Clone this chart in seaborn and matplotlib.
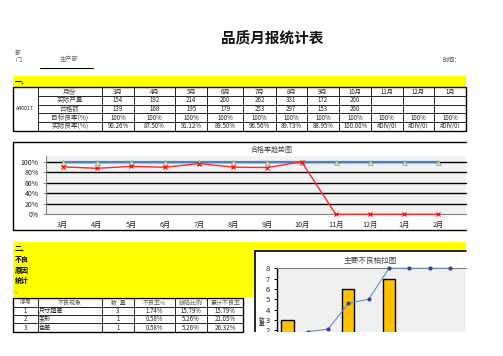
import matplotlib
matplotlib.use('Agg')
import matplotlib.pyplot as plt
import seaborn as sns
import pandas as pd
import numpy as np
from matplotlib.patches import Rectangle

sns.set_theme(style='white')
plt.rcParams['font.family'] = ['Noto Sans CJK SC', 'DejaVu Sans']
plt.rcParams['axes.unicode_minus'] = False

# ---------------- data ----------------
table_months = ['3月', '4月', '5月', '6月', '7月', '8月', '9月', '10月', '11月', '12月', '1月']
row_labels = ['月份', '实际产量', '合格数', '目标良率(%)', '实际良率(%)']
output_qty = ['154', '192', '214', '200', '262', '331', '172', '200', '', '', '']
pass_qty = ['139', '168', '195', '179', '253', '297', '153', '200', '', '', '']
target_rate_txt = ['100%', '100%', '100%', '100%', '100%', '100%', '100%', '100%', '100%', '100%', '100%']
actual_rate_txt = ['90.26%', '87.50%', '91.12%', '89.50%', '96.56%', '89.73%', '88.95%',
                   '100.00%', '#DIV/0!', '#DIV/0!', '#DIV/0!']

trend_months = ['3月', '4月', '5月', '6月', '7月', '8月', '9月', '10月', '11月', '12月', '1月', '2月']
target_pct = [1.0, 1.0, 1.0, 1.0, 1.0, 1.0, 1.0, 1.0, 1.0, 1.0, 1.0, 1.0]
actual_pct = [0.9026, 0.8750, 0.9112, 0.8950, 0.9656, 0.8973, 0.8895, 1.0, 0.0, 0.0, 0.0, 0.0]
pct_ticks = ['0%', '20%', '40%', '60%', '80%', '100%']

defect_header = ['序号', '不良现象', '数  量', '不良率%', '缺陷比例', '累计不良率']
defect_no = ['1', '2', '3']
defect_type = ['尺寸超差', '变形', '色差']
defect_qty = ['3', '1', '1']
defect_rate = ['1.74%', '0.58%', '0.58%']
defect_share = ['15.79%', '5.26%', '5.26%']
defect_cum = ['15.79%', '21.05%', '26.32%']

pareto_count = [3, 0, 0, 6, 0, 7, 0, 0, 0]
pareto_cum = [1.0, 1.85, 2.1, 4.6, 5.0, 8, 8, 8, 8]

# ---------------- figure ----------------
W, H = 503, 356
fig = plt.figure(figsize=(5.03, 3.56), dpi=100)
fig.patch.set_facecolor('white')
bg = fig.add_axes([0, 0, 1, 1])
bg.set_xlim(0, W)
bg.set_ylim(H, 0)
bg.axis('off')


def ax_at(x0, y0, x1, y1):
    return fig.add_axes([x0 / W, 1 - y1 / H, (x1 - x0) / W, (y1 - y0) / H])


TXT = '#222222'
YEL = '#FFFF00'

# header
bg.text(272, 39, '品质月报统计表', fontsize=10.5, fontweight='bold', ha='center', va='center', color='#111111')
bg.text(15, 57, '部\n门:', fontsize=4.2, ha='left', va='center', color='#555555', linespacing=1.3)
bg.text(69, 59.7, '生产部', fontsize=4.5, ha='center', va='center', color='#666666')
bg.plot([40, 93], [68.3, 68.3], color='black', lw=0.8)
bg.text(443, 60.3, '时间:', fontsize=4.5, ha='left', va='center', color='#555555')

# section 1 yellow band
bg.add_patch(Rectangle((13.3, 76), 452.7, 10.5, facecolor=YEL, edgecolor='none'))
bg.text(15, 81.3, '一、', fontsize=5, fontweight='bold', ha='left', va='center', color='black')

# table 1
cols = [13.3, 37.7, 101.7, 134.3, 175, 207.3, 243.3, 275.7, 306.7, 339.3, 371, 402.7, 434.3, 465.7]
t_top, t_bot = 87.2, 130.5
nrows = 5
rh = (t_bot - t_top) / nrows
rows_y = [t_top + i * rh for i in range(nrows + 1)]
for y in rows_y[1:-1]:
    bg.plot([cols[1], cols[-1]], [y, y], color='black', lw=0.6)
for x in cols[1:-1]:
    bg.plot([x, x], [t_top, t_bot], color='black', lw=0.6)
bg.add_patch(Rectangle((cols[0], t_top), cols[-1] - cols[0], t_bot - t_top, facecolor='none',
                       edgecolor='black', lw=1.0))
bg.text((cols[0] + cols[1]) / 2, (t_top + t_bot) / 2, 'A4001T', fontsize=3.8, ha='center', va='center', color=TXT)
table_rows = [table_months, output_qty, pass_qty, target_rate_txt, actual_rate_txt]
for r in range(nrows):
    cy = rows_y[r] + rh / 2
    bg.text((cols[1] + cols[2]) / 2, cy, row_labels[r], fontsize=4.8, ha='center', va='center', color='#444444')
    for c, val in enumerate(table_rows[r]):
        cx = (cols[c + 2] + cols[c + 3]) / 2
        bg.text(cx, cy, val, fontsize=4.4, ha='center', va='center', color=TXT)

# trend chart frame
bg.plot([13.3, 466], [142.3, 142.3], color='black', lw=1.0)
bg.plot([13.3, 13.3], [142.3, 230], color='black', lw=1.0)
bg.plot([13.3, 466], [230, 230], color='black', lw=1.0)
bg.text(272, 150, '合格率趋势图', fontsize=5, ha='center', va='center', color='#444444')

ax1 = ax_at(45.7, 155.7, 465.7, 214.3)
ax1.set_facecolor('#F2F2F2')
pos = np.arange(len(trend_months))
df = pd.DataFrame({'pos': pos, 'target': target_pct, 'actual': actual_pct})
for yv in [0.2, 0.4, 0.6, 0.8, 1.0]:
    ax1.axhline(yv, color='black', lw=1.0, zorder=1)
sns.lineplot(data=df, x='pos', y='target', ax=ax1, color='#4F81BD', lw=1.6, marker='^',
             markersize=3.6, markerfacecolor='#CFE0C8', markeredgecolor='#8FB08A', markeredgewidth=0.5,
             sort=False, zorder=3)
sns.lineplot(data=df, x='pos', y='actual', ax=ax1, color='#FF2A2A', lw=1.0, marker='x',
             markersize=3.2, markeredgecolor='#FF0000', markeredgewidth=0.8, sort=False, zorder=4)
for ln in ax1.lines:
    ln.set_clip_on(False)
ax1.set_xlim(-0.5, 11.81)
ax1.set_ylim(0, 1.115)
ax1.set_yticks([0, 0.2, 0.4, 0.6, 0.8, 1.0])
ax1.set_yticklabels(pct_ticks, fontsize=5, color=TXT)
ax1.set_xticks(pos)
ax1.set_xticklabels(trend_months, fontsize=5.2, color=TXT)
ax1.set_xticks(np.arange(len(trend_months) + 1) - 0.5, minor=True)
ax1.tick_params(axis='x', which='major', length=0, pad=5)
ax1.tick_params(axis='x', which='minor', length=2.5, width=0.6, color='#808080', direction='out')
ax1.tick_params(axis='y', which='major', length=2, width=0.6, color='#808080', pad=3, left=True)
ax1.set_xlabel('')
ax1.set_ylabel('')
for s in ['top', 'right']:
    ax1.spines[s].set_visible(False)
for s in ['left', 'bottom']:
    ax1.spines[s].set_color('#808080')
    ax1.spines[s].set_linewidth(0.8)

# section 2 yellow
bg.add_patch(Rectangle((13.3, 241.7), 452.7, 55, facecolor=YEL, edgecolor='none'))
for txt, yy in [('二、', 249), ('不良', 259.7), ('原因', 270), ('统计', 280.3), ('.', 290.5)]:
    bg.text(15, yy, txt, fontsize=5, fontweight='bold', ha='left', va='center', color='black')

# table 2
t2_top, t2_bot = 298.3, 331.7
c2 = cols[:7]
rh2 = (t2_bot - t2_top) / 4
for i in range(1, 4):
    y = t2_top + i * rh2
    bg.plot([c2[0], c2[-1]], [y, y], color='black', lw=0.6)
for x in c2[1:-1]:
    bg.plot([x, x], [t2_top, t2_bot], color='black', lw=0.6)
bg.add_patch(Rectangle((c2[0], t2_top), c2[-1] - c2[0], t2_bot - t2_top, facecolor='none',
                       edgecolor='black', lw=1.0))
for c, h in enumerate(defect_header):
    bg.text((c2[c] + c2[c + 1]) / 2, t2_top + rh2 / 2, h, fontsize=4.3, ha='center', va='center', color='#555555')
for r in range(3):
    cy = t2_top + (r + 1.5) * rh2
    bg.text((c2[0] + c2[1]) / 2, cy, defect_no[r], fontsize=4.4, ha='center', va='center', color=TXT)
    bg.text(c2[1] + 1.5, cy, defect_type[r], fontsize=4.4, ha='left', va='center', color=TXT)
    for c, vals in zip(range(2, 6), [defect_qty, defect_rate, defect_share, defect_cum]):
        bg.text((c2[c] + c2[c + 1]) / 2, cy, vals[r], fontsize=4.4, ha='center', va='center', color=TXT)

# pareto chart box
bg.add_patch(Rectangle((255, 250.7), 211, 81.5, facecolor='white', edgecolor='none', zorder=2))
bg.plot([255, 466], [250.7, 250.7], color='black', lw=1.2, zorder=3)
bg.plot([255, 255], [250.7, 332.2], color='black', lw=1.2, zorder=3)
bg.text(370, 261, '主要不良柏拉图', fontsize=5.5, ha='center', va='center', color='#444444', zorder=3)
bg.text(262, 322, '数\n量', fontsize=4.2, ha='center', va='center', color='#444444', linespacing=0.95, zorder=3)

ax2 = ax_at(276.7, 268.3, 466, 332.2)
ax2.set_facecolor('#F0F0F0')
ppos = np.arange(len(pareto_count))
pdf = pd.DataFrame({'pos': ppos, 'count': pareto_count, 'cum': pareto_cum})
sns.barplot(data=pdf, x='pos', y='count', ax=ax2, color='#FFC000', saturation=1, edgecolor='black',
            linewidth=1.0, width=0.6, zorder=2)
sns.lineplot(data=pdf, x='pos', y='cum', ax=ax2, color='#6A8CC8', lw=0.8, marker='o', markersize=2.2,
             markerfacecolor='#2B3FA8', markeredgecolor='#2B3FA8', sort=False, zorder=4)
for ln in ax2.lines:
    ln.set_clip_on(False)
ax2.set_xlim(-0.53, 8.79)
ax2.set_ylim(1.8, 8)
ax2.set_yticks([2, 3, 4, 5, 6, 7, 8])
ax2.set_yticklabels(['2', '3', '4', '5', '6', '7', '8'], fontsize=5.5, color=TXT)
ax2.set_xticks([])
ax2.set_xlabel('')
ax2.set_ylabel('')
ax2.tick_params(axis='y', length=2.5, width=0.7, color='black', pad=2.5, left=True)
ax2.spines['left'].set_color('black')
ax2.spines['left'].set_linewidth(1.0)
ax2.spines['top'].set_color('#808080')
ax2.spines['top'].set_linewidth(0.8)
ax2.spines['right'].set_visible(False)
ax2.spines['bottom'].set_visible(False)

# white cover below the visible part of the pareto chart (the sheet is cut there)
cover = ax_at(253, 332.2, W, H)
cover.set_zorder(20)
cover.set_facecolor('white')
cover.set_xticks([])
cover.set_yticks([])
for s in cover.spines.values():
    s.set_visible(False)

fig.savefig('out.png', dpi=100, facecolor='white')
